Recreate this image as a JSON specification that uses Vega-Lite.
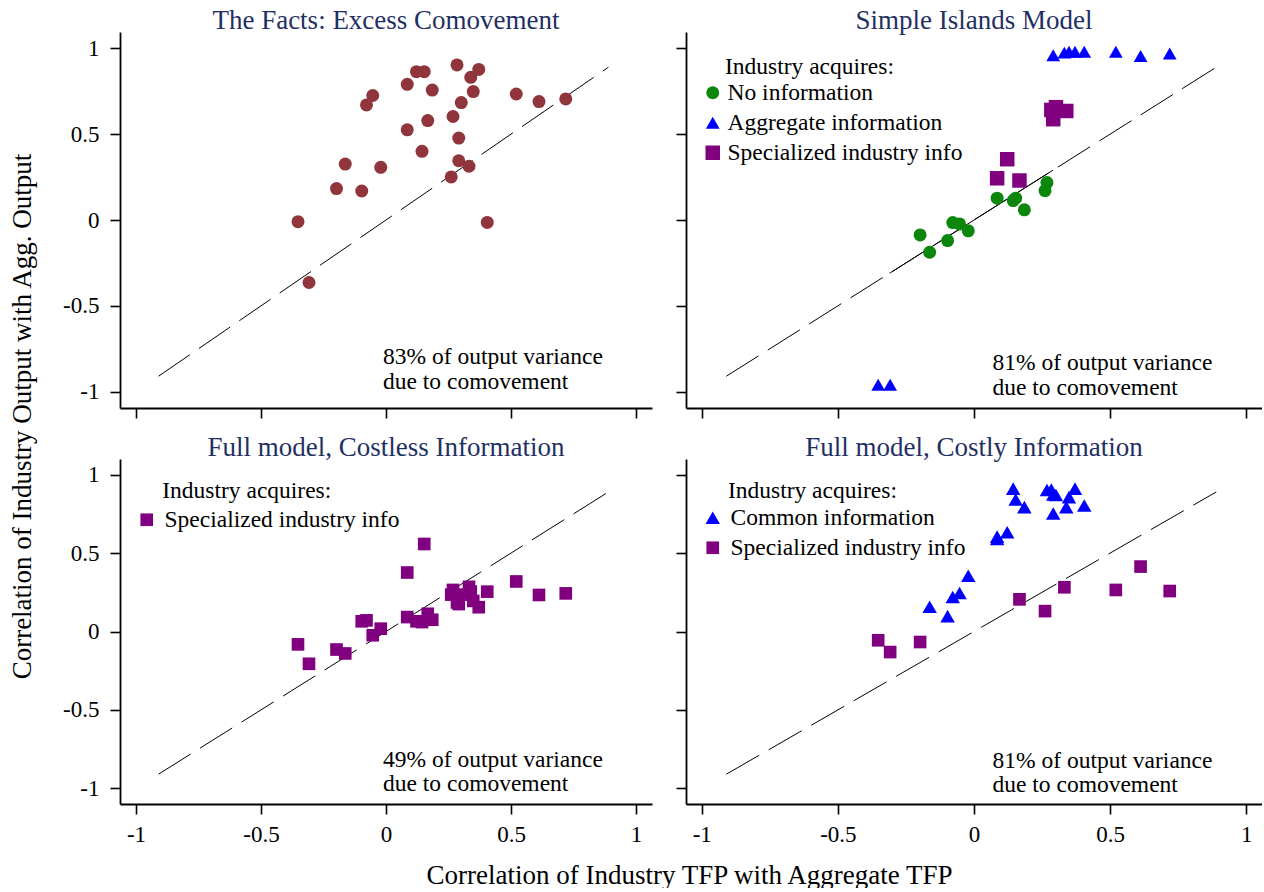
{
  "$schema": "https://vega.github.io/schema/vega-lite/v6.json",
  "background": "white",
  "padding": {"left": 8, "top": 7, "right": 0, "bottom": 0},
  "datasets": {
    "diag": [{"x": -0.91, "y": -0.91, "x2": 0.89, "y2": 0.89}],
    "fit": [{"x": -0.31, "y": -0.31, "x2": 0.29, "y2": 0.29}],
    "facts": [
      {"x": 0.284, "y": 0.903}, {"x": 0.122, "y": 0.864}, {"x": 0.153, "y": 0.864}, {"x": 0.371, "y": 0.877},
      {"x": 0.339, "y": 0.831}, {"x": 0.085, "y": 0.790}, {"x": 0.185, "y": 0.757}, {"x": 0.349, "y": 0.748},
      {"x": -0.053, "y": 0.725}, {"x": -0.078, "y": 0.670}, {"x": 0.521, "y": 0.734}, {"x": 0.612, "y": 0.690},
      {"x": 0.719, "y": 0.705}, {"x": 0.301, "y": 0.684}, {"x": 0.268, "y": 0.603}, {"x": 0.167, "y": 0.579},
      {"x": 0.085, "y": 0.525}, {"x": 0.291, "y": 0.477}, {"x": 0.144, "y": 0.400}, {"x": 0.291, "y": 0.345},
      {"x": 0.332, "y": 0.313}, {"x": 0.261, "y": 0.251}, {"x": -0.163, "y": 0.326}, {"x": -0.021, "y": 0.307},
      {"x": -0.198, "y": 0.183}, {"x": -0.097, "y": 0.169}, {"x": -0.352, "y": -0.010}, {"x": 0.405, "y": -0.014},
      {"x": -0.308, "y": -0.364}
    ],
    "islands": [
      {"x": -0.198, "y": -0.087, "type": "No information"}, {"x": -0.163, "y": -0.188, "type": "No information"},
      {"x": -0.097, "y": -0.120, "type": "No information"}, {"x": -0.078, "y": -0.015, "type": "No information"},
      {"x": -0.053, "y": -0.023, "type": "No information"}, {"x": -0.021, "y": -0.063, "type": "No information"},
      {"x": 0.085, "y": 0.127, "type": "No information"}, {"x": 0.144, "y": 0.113, "type": "No information"},
      {"x": 0.153, "y": 0.127, "type": "No information"}, {"x": 0.185, "y": 0.059, "type": "No information"},
      {"x": 0.268, "y": 0.218, "type": "No information"}, {"x": 0.261, "y": 0.171, "type": "No information"},
      {"x": 0.291, "y": 0.960, "type": "Aggregate information"}, {"x": 0.332, "y": 0.975, "type": "Aggregate information"},
      {"x": 0.349, "y": 0.980, "type": "Aggregate information"}, {"x": 0.371, "y": 0.980, "type": "Aggregate information"},
      {"x": 0.405, "y": 0.980, "type": "Aggregate information"}, {"x": 0.521, "y": 0.980, "type": "Aggregate information"},
      {"x": 0.612, "y": 0.955, "type": "Aggregate information"}, {"x": 0.719, "y": 0.970, "type": "Aggregate information"},
      {"x": -0.352, "y": -0.960, "type": "Aggregate information"}, {"x": -0.308, "y": -0.960, "type": "Aggregate information"},
      {"x": 0.085, "y": 0.243, "type": "Specialized industry info"}, {"x": 0.122, "y": 0.354, "type": "Specialized industry info"},
      {"x": 0.167, "y": 0.230, "type": "Specialized industry info"}, {"x": 0.284, "y": 0.641, "type": "Specialized industry info"},
      {"x": 0.291, "y": 0.587, "type": "Specialized industry info"}, {"x": 0.301, "y": 0.657, "type": "Specialized industry info"},
      {"x": 0.339, "y": 0.635, "type": "Specialized industry info"}
    ],
    "costless": [
      {"x": -0.352, "y": -0.082, "type": "Specialized industry info"}, {"x": -0.308, "y": -0.206, "type": "Specialized industry info"},
      {"x": -0.198, "y": -0.115, "type": "Specialized industry info"}, {"x": -0.163, "y": -0.140, "type": "Specialized industry info"},
      {"x": -0.097, "y": 0.065, "type": "Specialized industry info"}, {"x": -0.078, "y": 0.071, "type": "Specialized industry info"},
      {"x": -0.053, "y": -0.024, "type": "Specialized industry info"}, {"x": -0.021, "y": 0.018, "type": "Specialized industry info"},
      {"x": 0.085, "y": 0.376, "type": "Specialized industry info"}, {"x": 0.085, "y": 0.092, "type": "Specialized industry info"},
      {"x": 0.122, "y": 0.065, "type": "Specialized industry info"}, {"x": 0.144, "y": 0.060, "type": "Specialized industry info"},
      {"x": 0.153, "y": 0.558, "type": "Specialized industry info"}, {"x": 0.167, "y": 0.113, "type": "Specialized industry info"},
      {"x": 0.185, "y": 0.075, "type": "Specialized industry info"}, {"x": 0.261, "y": 0.235, "type": "Specialized industry info"},
      {"x": 0.268, "y": 0.265, "type": "Specialized industry info"}, {"x": 0.284, "y": 0.185, "type": "Specialized industry info"},
      {"x": 0.291, "y": 0.210, "type": "Specialized industry info"}, {"x": 0.291, "y": 0.175, "type": "Specialized industry info"},
      {"x": 0.301, "y": 0.235, "type": "Specialized industry info"}, {"x": 0.332, "y": 0.285, "type": "Specialized industry info"},
      {"x": 0.339, "y": 0.255, "type": "Specialized industry info"}, {"x": 0.349, "y": 0.195, "type": "Specialized industry info"},
      {"x": 0.371, "y": 0.155, "type": "Specialized industry info"}, {"x": 0.405, "y": 0.254, "type": "Specialized industry info"},
      {"x": 0.521, "y": 0.319, "type": "Specialized industry info"}, {"x": 0.612, "y": 0.233, "type": "Specialized industry info"},
      {"x": 0.719, "y": 0.243, "type": "Specialized industry info"}
    ],
    "costly": [
      {"x": -0.163, "y": 0.158, "type": "Common information"}, {"x": -0.097, "y": 0.098, "type": "Common information"},
      {"x": -0.078, "y": 0.220, "type": "Common information"}, {"x": -0.053, "y": 0.245, "type": "Common information"},
      {"x": -0.021, "y": 0.355, "type": "Common information"}, {"x": 0.085, "y": 0.590, "type": "Common information"},
      {"x": 0.085, "y": 0.605, "type": "Common information"}, {"x": 0.122, "y": 0.633, "type": "Common information"},
      {"x": 0.144, "y": 0.911, "type": "Common information"}, {"x": 0.153, "y": 0.842, "type": "Common information"},
      {"x": 0.185, "y": 0.793, "type": "Common information"}, {"x": 0.268, "y": 0.902, "type": "Common information"},
      {"x": 0.284, "y": 0.905, "type": "Common information"}, {"x": 0.291, "y": 0.874, "type": "Common information"},
      {"x": 0.291, "y": 0.753, "type": "Common information"}, {"x": 0.301, "y": 0.870, "type": "Common information"},
      {"x": 0.339, "y": 0.793, "type": "Common information"}, {"x": 0.349, "y": 0.857, "type": "Common information"},
      {"x": 0.371, "y": 0.911, "type": "Common information"}, {"x": 0.405, "y": 0.804, "type": "Common information"},
      {"x": -0.352, "y": -0.056, "type": "Specialized industry info"}, {"x": -0.308, "y": -0.131, "type": "Specialized industry info"},
      {"x": -0.198, "y": -0.067, "type": "Specialized industry info"}, {"x": 0.167, "y": 0.205, "type": "Specialized industry info"},
      {"x": 0.261, "y": 0.130, "type": "Specialized industry info"}, {"x": 0.332, "y": 0.282, "type": "Specialized industry info"},
      {"x": 0.521, "y": 0.265, "type": "Specialized industry info"}, {"x": 0.612, "y": 0.414, "type": "Specialized industry info"},
      {"x": 0.719, "y": 0.258, "type": "Specialized industry info"}
    ],
    "notes": [
      {"panel": "facts", "x": -0.012, "y": -0.800, "text": "83% of output variance"},
      {"panel": "facts", "x": -0.012, "y": -0.946, "text": "due to comovement"},
      {"panel": "islands", "x": 0.068, "y": -0.834, "text": "81% of output variance"},
      {"panel": "islands", "x": 0.068, "y": -0.980, "text": "due to comovement"},
      {"panel": "islands", "x": -0.915, "y": 0.893, "text": "Industry acquires:"},
      {"panel": "costless", "x": -0.012, "y": -0.822, "text": "49% of output variance"},
      {"panel": "costless", "x": -0.012, "y": -0.972, "text": "due to comovement"},
      {"panel": "costless", "x": -0.895, "y": 0.898, "text": "Industry acquires:"},
      {"panel": "costly", "x": 0.068, "y": -0.826, "text": "81% of output variance"},
      {"panel": "costly", "x": 0.068, "y": -0.976, "text": "due to comovement"},
      {"panel": "costly", "x": -0.904, "y": 0.898, "text": "Industry acquires:"}
    ]
  },
  "config": {
    "font": "Liberation Serif",
    "view": {"stroke": null},
    "axis": {"domainColor": "black", "domainWidth": 1.8, "tickColor": "black", "tickWidth": 1.6, "tickSize": 10, "labelFont": "Liberation Serif", "labelFontSize": 23, "labelColor": "black", "grid": false, "labelPadding": 9, "titleFont": "Liberation Serif", "titleFontSize": 27, "titleFontWeight": "normal", "titleColor": "black"},
    "axisY": {"labelPadding": 11},
    "title": {"font": "Liberation Serif", "fontSize": 27, "fontWeight": "normal", "color": "#1f3062", "anchor": "middle", "frame": "group", "baseline": "alphabetic", "offset": -3},
    "legend": {"orient": "none", "labelFont": "Liberation Serif", "labelFontSize": 23.5, "labelColor": "black", "rowPadding": 5, "symbolStrokeWidth": 0, "symbolOpacity": 1, "labelLimit": 400}
  },
  "columns": 2,
  "bounds": "flush",
  "spacing": {"row": 51, "column": 34},
  "resolve": {"scale": {"color": "independent", "shape": "independent", "size": "independent"}},
  "concat": [
    {
      "width": 532, "height": 376,
      "title": "The Facts: Excess Comovement",
      "encoding": {
        "x": {"field": "x", "type": "quantitative", "scale": {"domain": [-1.064, 1.064], "nice": false, "zero": false}, "axis": {"values": [-1, -0.5, 0, 0.5, 1], "labels": false, "title": null}},
        "y": {"field": "y", "type": "quantitative", "scale": {"domain": [-1.095, 1.095], "nice": false, "zero": false}, "axis": {"values": [-1, -0.5, 0, 0.5, 1], "labelExpr": "(datum.value < 0 ? '-' : '') + abs(datum.value)", "title": "Correlation of Industry Output with Agg. Output", "titleX": -98, "titleY": 384, "titleAngle": -90, "titleAlign": "center", "titleBaseline": "middle"}}
      },
      "layer": [
        {"data": {"name": "diag"}, "mark": {"type": "rule", "color": "black", "strokeWidth": 1, "strokeDash": [38, 11]}, "encoding": {"x2": {"field": "x2"}, "y2": {"field": "y2"}}},
        {"data": {"name": "facts"}, "mark": {"type": "circle", "color": "#90353b", "size": 169, "opacity": 1}},
        {"data": {"name": "notes"}, "transform": [{"filter": "datum.panel == 'facts'"}], "mark": {"type": "text", "align": "left", "baseline": "middle", "fontSize": 23.5, "font": "Liberation Serif", "color": "black"}, "encoding": {"text": {"field": "text"}}}
      ]
    },
    {
      "width": 576, "height": 376,
      "title": "Simple Islands Model",
      "encoding": {
        "x": {"field": "x", "type": "quantitative", "scale": {"domain": [-1.058, 1.058], "nice": false, "zero": false}, "axis": {"values": [-1, -0.5, 0, 0.5, 1], "labels": false, "title": null}},
        "y": {"field": "y", "type": "quantitative", "scale": {"domain": [-1.095, 1.095], "nice": false, "zero": false}, "axis": {"values": [-1, -0.5, 0, 0.5, 1], "labels": false, "title": null}}
      },
      "layer": [
        {"data": {"name": "diag"}, "mark": {"type": "rule", "color": "black", "strokeWidth": 1, "strokeDash": [38, 11]}, "encoding": {"x2": {"field": "x2"}, "y2": {"field": "y2"}}},
        {"data": {"name": "fit"}, "mark": {"type": "rule", "color": "black", "strokeWidth": 1}, "encoding": {"x2": {"field": "x2"}, "y2": {"field": "y2"}}},
        {"data": {"name": "islands"}, "mark": {"type": "point", "filled": true, "opacity": 1, "strokeWidth": 0},
          "encoding": {
            "color": {"field": "type", "type": "nominal", "scale": {"domain": ["No information", "Aggregate information", "Specialized industry info"], "range": ["#0b870b", "#0000ff", "#800080"]}, "legend": {"title": null, "legendX": 15, "legendY": 49, "labelOffset": 3}},
            "shape": {"field": "type", "type": "nominal", "scale": {"domain": ["No information", "Aggregate information", "Specialized industry info"], "range": ["circle", "triangle-up", "square"]}, "legend": {"title": null, "legendX": 15, "legendY": 49, "labelOffset": 3}},
            "size": {"field": "type", "type": "nominal", "scale": {"domain": ["No information", "Aggregate information", "Specialized industry info"], "range": [169, 210, 160]}, "legend": {"title": null, "legendX": 15, "legendY": 49, "labelOffset": 3}}
          }
        },
        {"data": {"name": "notes"}, "transform": [{"filter": "datum.panel == 'islands'"}], "mark": {"type": "text", "align": "left", "baseline": "middle", "fontSize": 23.5, "font": "Liberation Serif", "color": "black"}, "encoding": {"text": {"field": "text"}}}
      ]
    },
    {
      "width": 532, "height": 345,
      "title": "Full model, Costless Information",
      "encoding": {
        "x": {"field": "x", "type": "quantitative", "scale": {"domain": [-1.064, 1.064], "nice": false, "zero": false}, "axis": {"values": [-1, -0.5, 0, 0.5, 1], "labelExpr": "(datum.value < 0 ? '-' : '') + abs(datum.value)", "title": "Correlation of Industry TFP with Aggregate TFP", "titleX": 569, "titleY": 71, "titleAlign": "center", "titleBaseline": "middle"}},
        "y": {"field": "y", "type": "quantitative", "scale": {"domain": [-1.1, 1.1], "nice": false, "zero": false}, "axis": {"values": [-1, -0.5, 0, 0.5, 1], "labelExpr": "(datum.value < 0 ? '-' : '') + abs(datum.value)", "title": null}}
      },
      "layer": [
        {"data": {"name": "diag"}, "mark": {"type": "rule", "color": "black", "strokeWidth": 1, "strokeDash": [38, 11]}, "encoding": {"x2": {"field": "x2"}, "y2": {"field": "y2"}}},
        {"data": {"name": "costless"}, "mark": {"type": "point", "filled": true, "opacity": 1, "strokeWidth": 0, "size": 160},
          "encoding": {
            "color": {"field": "type", "type": "nominal", "scale": {"domain": ["Specialized industry info"], "range": ["#800080"]}, "legend": {"title": null, "legendX": 15, "legendY": 49, "labelOffset": 6, "symbolSize": 160}},
            "shape": {"field": "type", "type": "nominal", "scale": {"domain": ["Specialized industry info"], "range": ["square"]}, "legend": {"title": null, "legendX": 15, "legendY": 49, "labelOffset": 6, "symbolSize": 160}}
          }
        },
        {"data": {"name": "notes"}, "transform": [{"filter": "datum.panel == 'costless'"}], "mark": {"type": "text", "align": "left", "baseline": "middle", "fontSize": 23.5, "font": "Liberation Serif", "color": "black"}, "encoding": {"text": {"field": "text"}}}
      ]
    },
    {
      "width": 576, "height": 345,
      "title": "Full model, Costly Information",
      "encoding": {
        "x": {"field": "x", "type": "quantitative", "scale": {"domain": [-1.058, 1.058], "nice": false, "zero": false}, "axis": {"values": [-1, -0.5, 0, 0.5, 1], "labelExpr": "(datum.value < 0 ? '-' : '') + abs(datum.value)", "title": null}},
        "y": {"field": "y", "type": "quantitative", "scale": {"domain": [-1.1, 1.1], "nice": false, "zero": false}, "axis": {"values": [-1, -0.5, 0, 0.5, 1], "labels": false, "title": null}}
      },
      "layer": [
        {"data": {"name": "diag"}, "mark": {"type": "rule", "color": "black", "strokeWidth": 1, "strokeDash": [38, 11]}, "encoding": {"x2": {"field": "x2"}, "y2": {"field": "y2"}}},
        {"data": {"name": "costly"}, "mark": {"type": "point", "filled": true, "opacity": 1, "strokeWidth": 0},
          "encoding": {
            "color": {"field": "type", "type": "nominal", "scale": {"domain": ["Common information", "Specialized industry info"], "range": ["#0000ff", "#800080"]}, "legend": {"title": null, "legendX": 15, "legendY": 47, "labelOffset": 6}},
            "shape": {"field": "type", "type": "nominal", "scale": {"domain": ["Common information", "Specialized industry info"], "range": ["triangle-up", "square"]}, "legend": {"title": null, "legendX": 15, "legendY": 47, "labelOffset": 6}},
            "size": {"field": "type", "type": "nominal", "scale": {"domain": ["Common information", "Specialized industry info"], "range": [210, 160]}, "legend": {"title": null, "legendX": 15, "legendY": 47, "labelOffset": 6}}
          }
        },
        {"data": {"name": "notes"}, "transform": [{"filter": "datum.panel == 'costly'"}], "mark": {"type": "text", "align": "left", "baseline": "middle", "fontSize": 23.5, "font": "Liberation Serif", "color": "black"}, "encoding": {"text": {"field": "text"}}}
      ]
    }
  ]
}
